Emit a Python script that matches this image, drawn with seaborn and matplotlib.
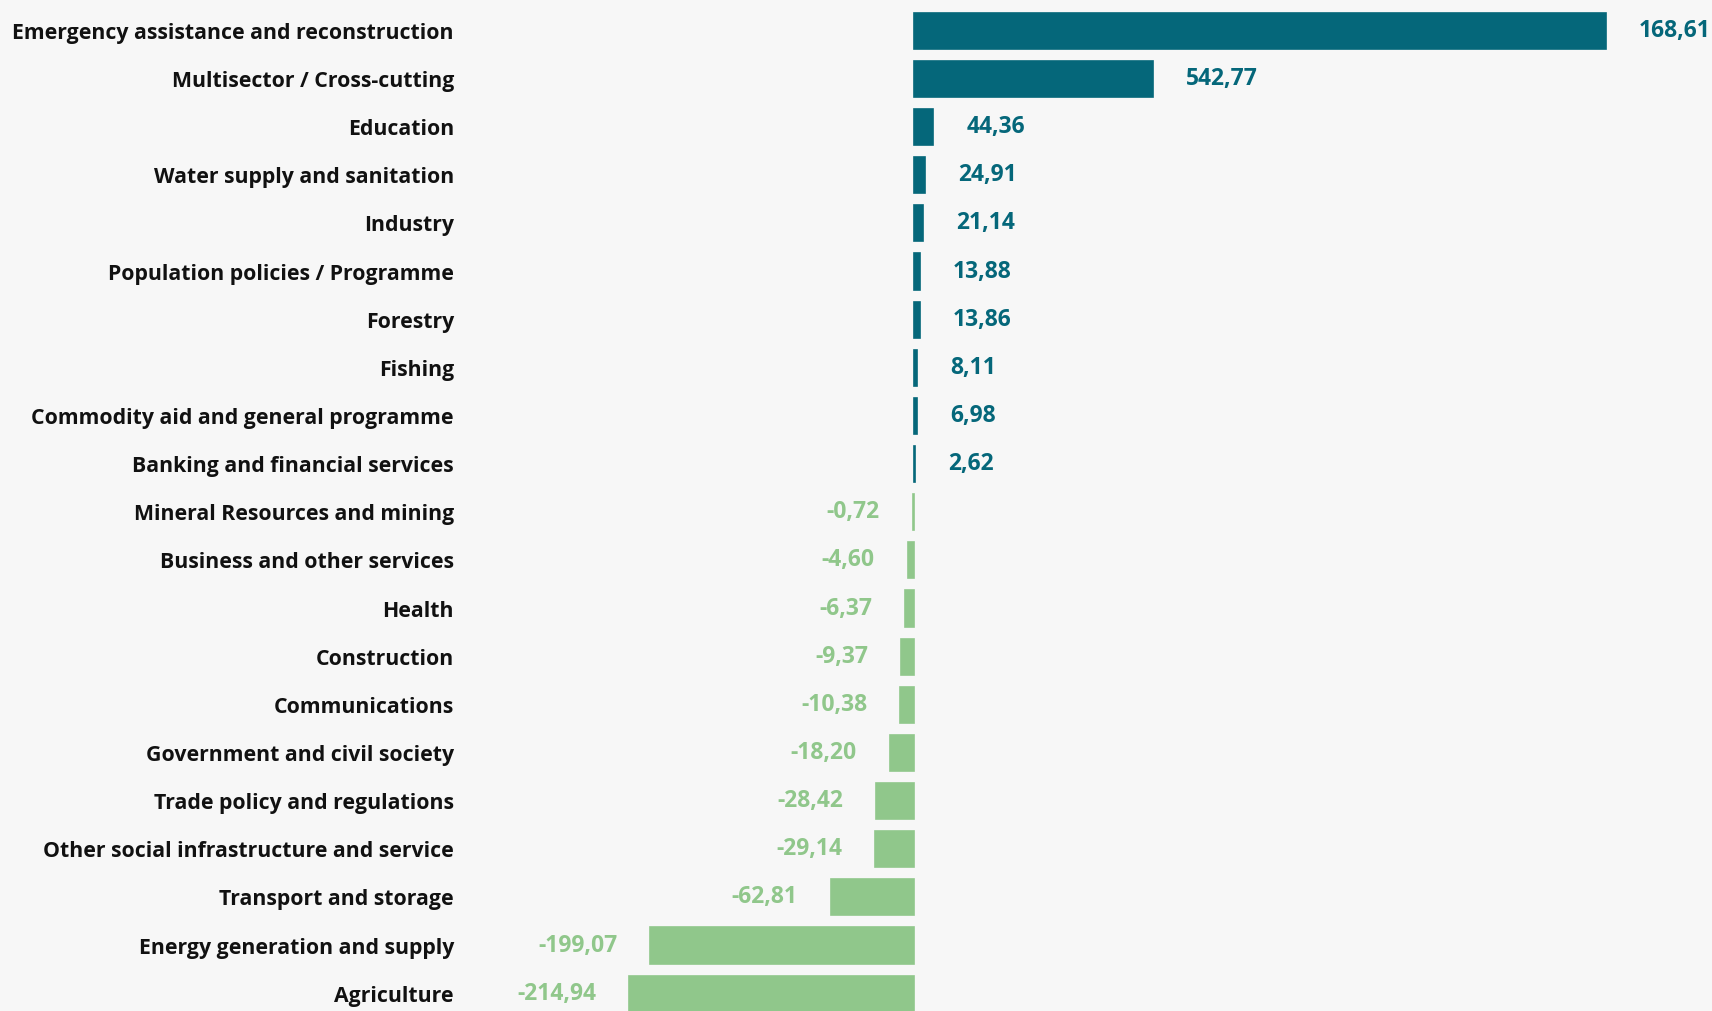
import matplotlib.pyplot as plt
import pandas as pd
import seaborn as sns

sectors = [
    "Emergency assistance and reconstruction",
    "Multisector / Cross-cutting",
    "Education",
    "Water supply and sanitation",
    "Industry",
    "Population policies / Programme",
    "Forestry",
    "Fishing",
    "Commodity aid and general programme",
    "Banking and financial services",
    "Mineral Resources and mining",
    "Business and other services",
    "Health",
    "Construction",
    "Communications",
    "Government and civil society",
    "Trade policy and regulations",
    "Other social infrastructure and service",
    "Transport and storage",
    "Energy generation and supply",
    "Agriculture",
]
values = [
    1568.61, 542.77, 44.36, 24.91, 21.14, 13.88, 13.86, 8.11, 6.98, 2.62,
    -0.72, -4.60, -6.37, -9.37, -10.38, -18.20, -28.42, -29.14, -62.81,
    -199.07, -214.94,
]
value_labels = [
    "168,61", "542,77", "44,36", "24,91", "21,14", "13,88", "13,86", "8,11",
    "6,98", "2,62", "-0,72", "-4,60", "-6,37", "-9,37", "-10,38", "-18,20",
    "-28,42", "-29,14", "-62,81", "-199,07", "-214,94",
]

POS_COLOR = "#05677A"
NEG_COLOR = "#90C78B"
BG_COLOR = "#F7F7F7"
# the reference draws the negative side on a stretched scale
NEG_SCALE = 3.0


def main() -> None:
    sns.set_theme(style="white")
    plt.rcParams["font.family"] = ["Open Sans", "DejaVu Sans"]

    df = pd.DataFrame({"sector": sectors, "value": values, "label": value_labels})
    df["drawn"] = df["value"].where(df["value"] >= 0, df["value"] * NEG_SCALE)
    df["sign"] = df["value"].ge(0).map({True: "pos", False: "neg"})

    fig = plt.figure(figsize=(17.12, 10.11), dpi=100, facecolor=BG_COLOR)
    ax = fig.add_axes([0.30, 0.0, 0.70, 1.0])
    ax.set_facecolor(BG_COLOR)

    sns.barplot(
        data=df,
        x="drawn",
        y="sector",
        hue="sign",
        palette={"pos": POS_COLOR, "neg": NEG_COLOR},
        order=sectors,
        dodge=False,
        width=0.75,
        legend=False,
        saturation=1,
        linewidth=1.2,
        ax=ax,
    )
    # thin bars stay visible as in the reference
    for patch in ax.patches:
        patch.set_edgecolor(patch.get_facecolor())

    ax.set_xlim(-907, 1809)
    ax.set_ylim(20.36, -0.64)

    for i, row in df.iterrows():
        if row["value"] >= 0:
            ax.annotate(
                row["label"], (row["drawn"], i), xytext=(33, 0),
                textcoords="offset pixels", ha="left", va="center",
                color=POS_COLOR, fontsize=16.5, fontweight="bold",
            )
        else:
            ax.annotate(
                row["label"], (row["drawn"], i), xytext=(-33, 0),
                textcoords="offset pixels", ha="right", va="center",
                color=NEG_COLOR, fontsize=16.5, fontweight="bold",
            )

    ax.set_xlabel("")
    ax.set_ylabel("")
    ax.set_xticks([])
    ax.tick_params(axis="y", length=0, pad=43)
    for lbl in ax.get_yticklabels():
        lbl.set_fontsize(15.3)
        lbl.set_fontweight("bold")
        lbl.set_color("#111111")
    sns.despine(ax=ax, left=True, bottom=True)

    fig.savefig("out.png", dpi=100, facecolor=BG_COLOR)
    plt.close(fig)


if __name__ == "__main__":
    main()
